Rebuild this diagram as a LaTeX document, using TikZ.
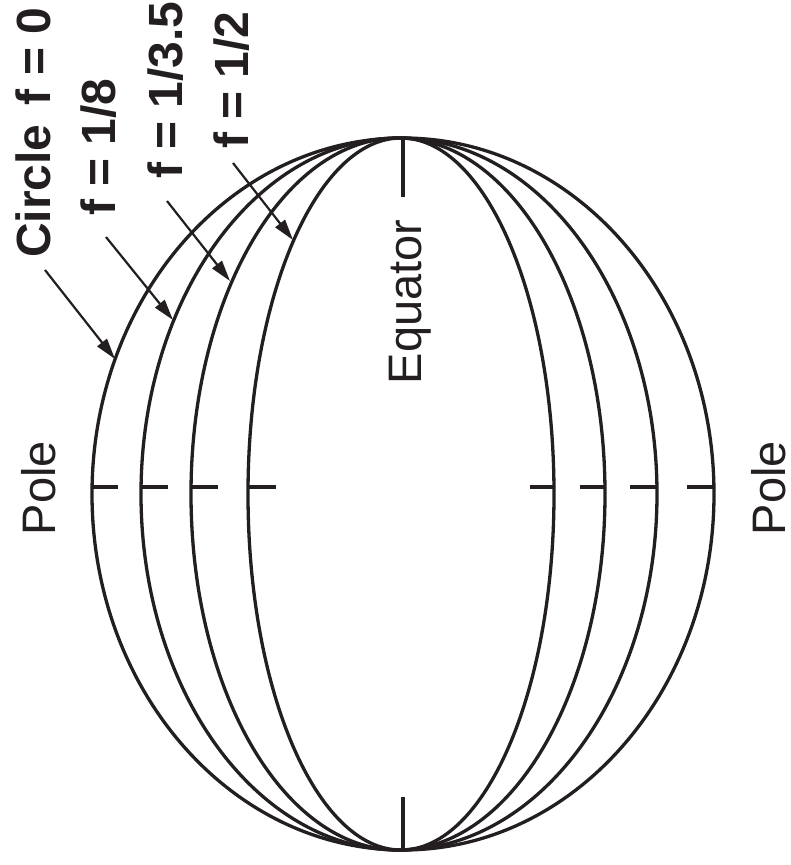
\documentclass[tikz,border=0pt]{standalone}
\usepackage{fontspec}
\setmainfont{Liberation Sans}
\usetikzlibrary{arrows.meta}
\definecolor{ink}{RGB}{35,31,32}
\begin{document}
\begin{tikzpicture}[x=1pt,y=-1pt, line join=round,
  curve/.style={draw=ink, line width=3.3pt},
  tickline/.style={draw=ink, line width=3.3pt},
  arr/.style={draw=ink, line width=2.2pt, -{Triangle[length=21pt,width=12pt]}},
  lbl/.style={text=ink, font=\fontsize{48}{56}\selectfont\bfseries, rotate=90, anchor=base west, inner sep=0pt},
  plainlbl/.style={text=ink, font=\fontsize{47}{56}\selectfont, rotate=90, anchor=base, inner sep=0pt}]
\useasboundingbox (0,0) rectangle (791,865);
% ellipses
\draw[curve] (403,494) ellipse [x radius=311, y radius=356];
\draw[curve] (399,494) ellipse [x radius=258, y radius=356];
\draw[curve] (398,494) ellipse [x radius=207, y radius=356];
\draw[curve] (401,494) ellipse [x radius=153, y radius=356];
% pole ticks
\draw[tickline] (93,487) -- (118,487);
\draw[tickline] (142,487) -- (168,487);
\draw[tickline] (192,487) -- (218,487);
\draw[tickline] (249,487) -- (276,487);
\draw[tickline] (530,487) -- (555,487);
\draw[tickline] (580,487) -- (605,487);
\draw[tickline] (630,487) -- (656,487);
\draw[tickline] (687,487) -- (714,487);
% equator ticks
\draw[tickline] (403,138) -- (403,197);
\draw[tickline] (403,797) -- (403,851);
% labels
\node[lbl] (c0) at (50,258) {Circle\hspace{0.4em}f = 0};
\node[lbl] (c1) at (115,216) {f = 1/8};
\node[lbl] (c2) at (182,179) {f = 1/3.5};
\node[lbl] (c3) at (248,149) {f = 1/2};
\node[plainlbl] (pl) at (55,488) {Pole};
\node[plainlbl] (pr) at (785,488) {Pole};
\node[plainlbl] (eq) at (421,302) {Equator};
% arrows
\coordinate (t0) at (45,270);  \coordinate (h0) at (115,359);
\coordinate (t1) at (106,237); \coordinate (h1) at (173,320);
\coordinate (t2) at (167,201); \coordinate (h2) at (230,281);
\coordinate (t3) at (233,163); \coordinate (h3) at (293,240);
\draw[arr] (t0) -- (h0);
\draw[arr] (t1) -- (h1);
\draw[arr] (t2) -- (h2);
\draw[arr] (t3) -- (h3);
\end{tikzpicture}
\end{document}
